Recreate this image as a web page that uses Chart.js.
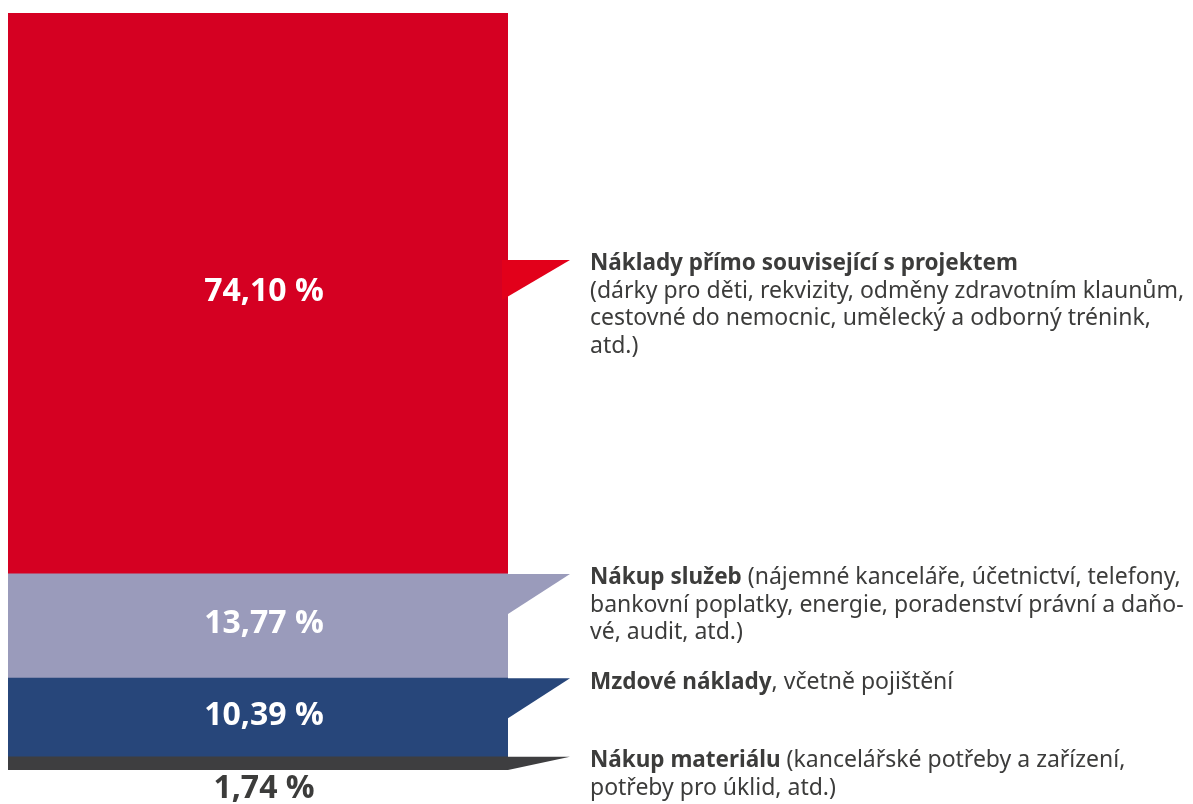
<!DOCTYPE html>
<html lang="cs">
<head>
  <meta charset="UTF-8">
  <title>Struktura nákladů</title>
  <style>
    html, body { margin: 0; padding: 0; background: #fff; }
    #wrap { width: 1193px; height: 804px; position: relative; }
  </style>
</head>
<body>
  <div id="wrap">
    <canvas id="costChart" width="1193" height="804"></canvas>
  </div>

  <script src="https://cdn.jsdelivr.net/npm/chart.js@4/dist/chart.umd.min.js"></script>
  <script>
    // segmenty zdola nahoru
    const segmentNames = ['Nákup materiálu', 'Mzdové náklady', 'Nákup služeb', 'Náklady přímo související s projektem'];
    const shares = [1.74, 10.39, 13.77, 74.10];
    const shareLabels = ['1,74 %', '10,39 %', '13,77 %', '74,10 %'];
    const segmentColors = ['#3e3e40', '#27467a', '#9a9bbb', '#d50022'];

    // popisky vpravo: řádky, každý řádek = úseky [text, tučně]
    const noteLines = [
      [
        [['Nákup materiálu', true], [' (kancelářské potřeby a zařízení,', false]],
        [['potřeby pro úklid, atd.)', false]]
      ],
      [
        [['Mzdové náklady', true], [', včetně pojištění', false]]
      ],
      [
        [['Nákup služeb', true], [' (nájemné kanceláře, účetnictví, telefony,', false]],
        [['bankovní poplatky, energie, poradenství právní a daňo-', false]],
        [['vé, audit, atd.)', false]]
      ],
      [
        [['Náklady přímo související s projektem', true]],
        [['(dárky pro děti, rekvizity, odměny zdravotním klaunům,', false]],
        [['cestovné do nemocnic, umělecký a odborný trénink,', false]],
        [['atd.)', false]]
      ]
    ];

    const pointerShift = [0, 0, 0, 247];
    const pointerColors = ['#3e3e40', '#27467a', '#9a9bbb', '#e2001a'];
    const textColor = '#3c3c3b';

    // trojúhelníky, procenta a popisky
    const labelPlugin = {
      id: 'segmentLabels',
      afterDatasetsDraw(chart) {
        const c = chart.ctx;
        c.save();
        chart.data.datasets.forEach((ds, i) => {
          const bar = chart.getDatasetMeta(i).data[0];
          const top = bar.y, base = bar.base;
          const right = bar.x + bar.width / 2;
          const py = top + pointerShift[i];
          const tipX = right + 62;
          const bottomY = Math.min(py + 40, base);

          c.fillStyle = pointerColors[i];
          c.beginPath();
          c.moveTo(i === 3 ? right - 6 : right, py);
          c.lineTo(tipX, py);
          c.lineTo(i === 3 ? right - 6 : right, bottomY);
          c.closePath();
          c.fill();

          // procenta
          c.font = 'bold 32px "Open Sans", Lato, sans-serif';
          c.textAlign = 'center';
          c.textBaseline = 'middle';
          if (base - top > 40) {
            c.fillStyle = '#ffffff';
            c.fillText(shareLabels[i], bar.x + 6, (top + base) / 2 - 2);
          } else {
            c.fillStyle = textColor;
            c.fillText(shareLabels[i], bar.x + 6, base + 19);
          }

          // popisek
          c.textAlign = 'left';
          let y = py + 4;
          noteLines[i].forEach(line => {
            let x = 590;
            line.forEach(([txt, bold]) => {
              c.font = bold ? 'bold 22.5px "Noto Sans", sans-serif' : '23px "Noto Sans", sans-serif';
              c.fillStyle = textColor;
              c.fillText(txt, x, y);
              x += c.measureText(txt).width;
            });
            y += 27.4;
          });
        });
        c.restore();
      }
    };

    new Chart(document.getElementById('costChart'), {
      type: 'bar',
      plugins: [labelPlugin],
      data: {
        labels: ['Náklady'],
        datasets: shares.map((v, i) => ({
          label: segmentNames[i],
          data: [v],
          backgroundColor: segmentColors[i],
          borderWidth: 0,
          categoryPercentage: 1,
          barPercentage: 1
        }))
      },
      options: {
        responsive: false,
        animation: false,
        layout: { padding: { left: 8, right: 685, top: 13, bottom: 34 } },
        plugins: {
          legend: { display: false },
          tooltip: { enabled: false }
        },
        scales: {
          x: { stacked: true, display: false },
          y: { stacked: true, display: false, min: 0, max: 100 }
        }
      }
    });
  </script>
</body>
</html>
